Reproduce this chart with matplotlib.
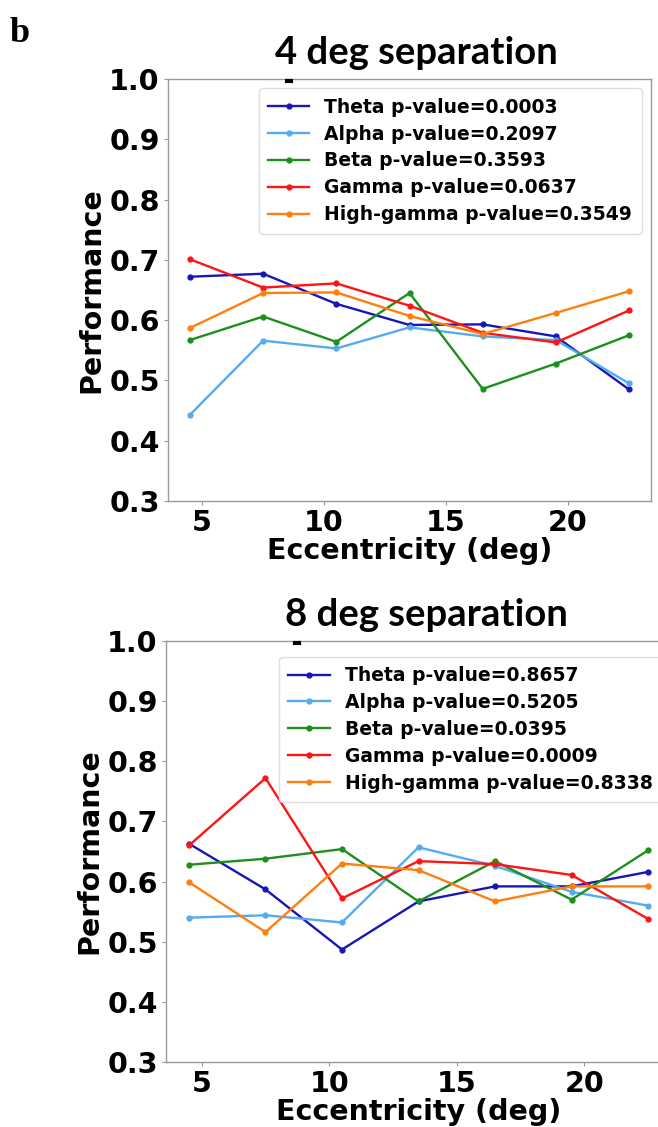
import matplotlib
matplotlib.use("Agg")
import matplotlib.pyplot as plt
from matplotlib.lines import Line2D

# eccentricity bins (deg)
ecc = [4.5, 7.5, 10.5, 13.5, 16.5, 19.5, 22.5]

bands = ["Theta", "Alpha", "Beta", "Gamma", "High-gamma"]
colors = ["#1717b5", "#55abf2", "#1c8f1c", "#ff1414", "#ff7f0e"]

# 4 deg separation
pvals_4 = ["0.0003", "0.2097", "0.3593", "0.0637", "0.3549"]
theta_4 = [0.672, 0.677, 0.627, 0.592, 0.593, 0.573, 0.485]
alpha_4 = [0.443, 0.566, 0.553, 0.588, 0.573, 0.567, 0.495]
beta_4 = [0.567, 0.606, 0.564, 0.645, 0.486, 0.528, 0.575]
gamma_4 = [0.701, 0.654, 0.661, 0.624, 0.579, 0.563, 0.616]
hgamma_4 = [0.587, 0.645, 0.646, 0.607, 0.577, 0.612, 0.648]

# 8 deg separation
pvals_8 = ["0.8657", "0.5205", "0.0395", "0.0009", "0.8338"]
theta_8 = [0.663, 0.587, 0.487, 0.567, 0.592, 0.592, 0.616]
alpha_8 = [0.540, 0.544, 0.532, 0.657, 0.626, 0.583, 0.560]
beta_8 = [0.628, 0.638, 0.654, 0.567, 0.634, 0.570, 0.652]
gamma_8 = [0.660, 0.772, 0.572, 0.634, 0.629, 0.611, 0.538]
hgamma_8 = [0.599, 0.516, 0.630, 0.619, 0.567, 0.592, 0.592]

W, H = 658, 1127
fig = plt.figure(figsize=(W / 100, H / 100), dpi=100)


def px_axes(left, top, right, bottom):
    # axes box given in pixel coords (origin top-left)
    return fig.add_axes([left / W, 1 - bottom / H, (right - left) / W, (bottom - top) / H])


def panel(ax, series, pvals, title, title_x, leg_kw):
    for name, vals, p, c in zip(bands, series, pvals, colors):
        ax.plot(ecc, vals, color=c, lw=1.7, marker="o", ms=3.5,
                label=f"{name} p-value={p}")
    ax.set_ylim(0.3, 1.0)
    ax.set_xticks([5, 10, 15, 20])
    ax.set_yticks([0.3, 0.4, 0.5, 0.6, 0.7, 0.8, 0.9, 1.0])
    ax.tick_params(labelsize=20.5, color="#999999", length=3, width=0.8, pad=3)
    for lab in ax.get_xticklabels() + ax.get_yticklabels():
        lab.set_fontweight("bold")
    for s in ax.spines.values():
        s.set_color("#9a9a9a")
        s.set_linewidth(1.0)
    ax.set_xlabel("Eccentricity (deg)", fontsize=20.5, fontweight="bold", labelpad=0)
    ax.set_ylabel("Performance", fontsize=20.5, fontweight="bold", labelpad=3)
    ax.set_title(title, fontsize=27.5, fontweight="bold", family="Lato",
                 pad=11, x=title_x)
    ax.legend(prop={"weight": "bold", "size": 13.5}, framealpha=1,
              edgecolor="#dddddd", handlelength=2.2, borderpad=0.5,
              labelspacing=0.42, **leg_kw)


ax1 = px_axes(168, 79, 651, 501)
panel(ax1, [theta_4, alpha_4, beta_4, gamma_4, hgamma_4], pvals_4,
      "4 deg separation", 0.515, dict(loc="upper right"))

ax2 = px_axes(166, 641, 671, 1062)
panel(ax2, [theta_8, alpha_8, beta_8, gamma_8, hgamma_8], pvals_8,
      "8 deg separation", 0.515,
      dict(loc="upper left", bbox_to_anchor=(0.205, 0.985)))

# small dark marks sitting on the top spines
for x, y in [(289, 81), (297, 643)]:
    fig.add_artist(Line2D([(x - 2) / W, (x + 2) / W], [1 - y / H, 1 - y / H],
                          transform=fig.transFigure, color="black", lw=3))

fig.text(10 / W, 1 - 42 / H, "b", fontsize=26, fontweight="bold",
         family="Liberation Serif")

fig.savefig("out.png", dpi=100)
